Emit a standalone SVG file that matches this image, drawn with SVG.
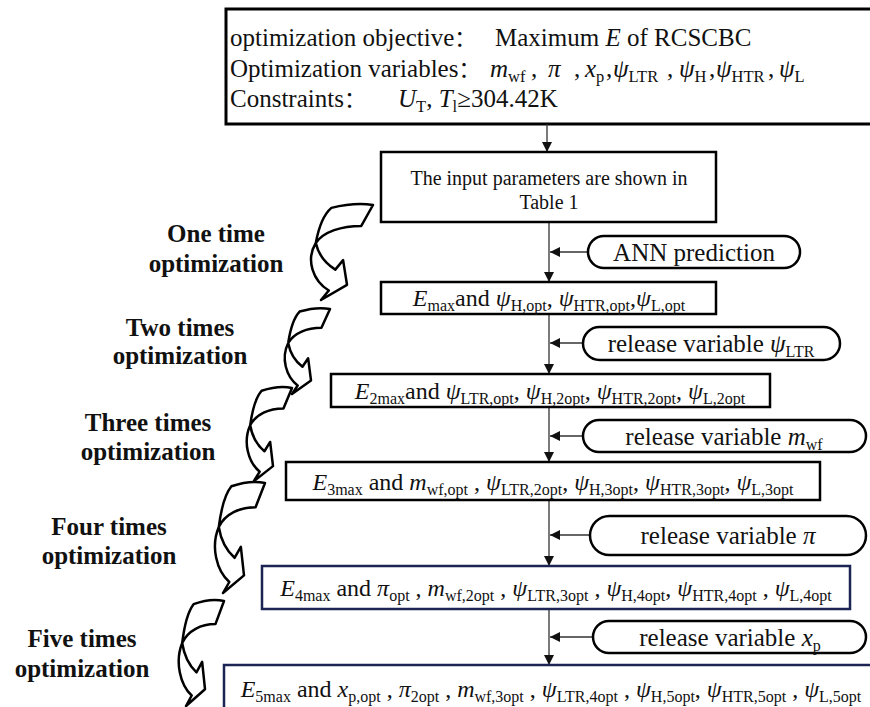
<svg xmlns="http://www.w3.org/2000/svg" xmlns:xlink="http://www.w3.org/1999/xlink" width="870" height="707" viewBox="0 0 870 707" font-family="'Liberation Serif', 'Times New Roman', Times, serif">
<style>
.tx{font-family:"Liberation Serif","Times New Roman",Times,serif;fill:#111}
.cj{font-family:"Noto Sans CJK SC","Noto Sans CJK JP",sans-serif;font-size:22px}
.i{font-style:italic}
.s{font-size:16px;baseline-shift:-5px;font-style:normal}
.s17{font-size:16.5px;baseline-shift:-5px;font-style:normal}
.m{text-anchor:middle}
.f24{font-size:24px}
.f25{font-size:25px}
.f20{font-size:20px}
.lbl{font-weight:bold;font-size:25px;text-anchor:middle}
.box{fill:#fff;stroke:#000;stroke-width:2.5}
.navy{stroke:#1b2452}
.pill{fill:#fff;stroke:#000;stroke-width:2.5}
.conn{stroke:#333;stroke-width:1.3;fill:none}
.ca{fill:#fff;stroke:#000;stroke-width:2.5;stroke-linejoin:round;vector-effect:non-scaling-stroke}
</style>
<defs>
<marker id="ah" viewBox="0 0 10 10" refX="10" refY="5" markerWidth="11" markerHeight="10" markerUnits="userSpaceOnUse" orient="auto"><path d="M0,0 L10,5 L0,10 Z" fill="#111"/></marker>
<path id="curv" class="ca" d="M -32,3 Q -14,-3 0,0 L -9,22 C -24,22 -38,28 -44,40 C -42,52 -36,62 -29,68 L -23,58 L -20,84 L -40,100 L -34,90 C -46,80 -52,58 -44,40 C -42,25 -38,10 -32,3 Z"/>
</defs>
<rect width="870" height="707" fill="#fff"/>

<g id="objective">
<rect class="box" x="226" y="9" width="660" height="115" style="stroke-width:3"/>
<text class="tx f25" x="230" y="46">optimization objective<tspan class="cj">：</tspan><tspan x="495">Maximum </tspan><tspan class="i">E</tspan> of RCSCBC</text>
<text class="tx f25" x="230" y="77">Optimization variables<tspan class="cj">：</tspan><tspan x="490" class="i">m</tspan><tspan class="s17">wf</tspan><tspan x="531">,</tspan><tspan x="548" class="i">π</tspan><tspan x="574">,</tspan><tspan x="585" class="i">x</tspan><tspan class="s17">p</tspan><tspan x="606">,</tspan><tspan x="613" class="i">ψ</tspan><tspan class="s17">LTR</tspan><tspan x="667">,</tspan><tspan x="679" class="i">ψ</tspan><tspan class="s17">H</tspan><tspan x="709">,</tspan><tspan x="716" class="i">ψ</tspan><tspan class="s17">HTR</tspan><tspan x="768">,</tspan><tspan x="779" class="i">ψ</tspan><tspan class="s17">L</tspan></text>
<text class="tx f25" x="230" y="107">Constraints<tspan class="cj">：</tspan><tspan x="398" class="i">U</tspan><tspan class="s17">T</tspan>, <tspan class="i">T</tspan><tspan class="s17">l</tspan>≥304.42K</text>
</g>

<g id="labels">
<text class="tx lbl" x="216" y="242">One time</text>
<text class="tx lbl" x="216" y="272">optimization</text>
<text class="tx lbl" x="180" y="336">Two times</text>
<text class="tx lbl" x="180" y="364">optimization</text>
<text class="tx lbl" x="148" y="431">Three times</text>
<text class="tx lbl" x="148" y="460">optimization</text>
<text class="tx lbl" x="109" y="535">Four times</text>
<text class="tx lbl" x="109" y="564">optimization</text>
<text class="tx lbl" x="82" y="647">Five times</text>
<text class="tx lbl" x="82" y="677">optimization</text>
</g>

<g id="curved-arrows">
<use xlink:href="#curv" transform="translate(373,205) scale(1.3,0.95)"/>
<use xlink:href="#curv" transform="translate(330,309) scale(0.95,0.85)"/>
<use xlink:href="#curv" transform="translate(292,388) scale(0.95,0.93)"/>
<use xlink:href="#curv" transform="translate(265,483) scale(1.05,1.1)"/>
<use xlink:href="#curv" transform="translate(224,601) scale(0.95,1.05)"/>
</g>

<g id="connectors">
<line class="conn" x1="547" y1="124" x2="547" y2="152" marker-end="url(#ah)"/>
<line class="conn" x1="549" y1="222" x2="549" y2="282" marker-end="url(#ah)"/>
<line class="conn" x1="549" y1="314" x2="549" y2="374" marker-end="url(#ah)"/>
<line class="conn" x1="549" y1="407" x2="549" y2="462" marker-end="url(#ah)"/>
<line class="conn" x1="549" y1="500" x2="549" y2="566" marker-end="url(#ah)"/>
<line class="conn" x1="549" y1="609" x2="549" y2="665" marker-end="url(#ah)"/>
<line class="conn" x1="588" y1="252" x2="550" y2="252" marker-end="url(#ah)"/>
<line class="conn" x1="583" y1="343" x2="550" y2="343" marker-end="url(#ah)"/>
<line class="conn" x1="583" y1="436" x2="550" y2="436" marker-end="url(#ah)"/>
<line class="conn" x1="590" y1="535" x2="550" y2="535" marker-end="url(#ah)"/>
<line class="conn" x1="593" y1="637" x2="550" y2="637" marker-end="url(#ah)"/>
</g>

<g id="input">
<rect class="box" x="381" y="152" width="335" height="70"/>
<text class="tx f20 m" x="549" y="185">The input parameters are shown in</text>
<text class="tx f20 m" x="549" y="209">Table 1</text>
</g>

<g id="ann">
<rect class="pill navy" x="588" y="236" width="212" height="32" rx="16"/>
<text class="tx f25 m" x="694" y="261">ANN prediction</text>
</g>

<g id="opt1">
<rect class="box" x="381" y="282" width="335" height="32"/>
<text class="tx f24 m" x="549" y="306"><tspan class="i">E</tspan><tspan class="s">max</tspan>and <tspan class="i">ψ</tspan><tspan class="s">H,opt</tspan>, <tspan class="i">ψ</tspan><tspan class="s">HTR,opt</tspan>,<tspan class="i">ψ</tspan><tspan class="s">L,opt</tspan></text>
</g>

<g id="rel-ltr">
<rect class="pill" x="583" y="327" width="257" height="33" rx="16.5"/>
<text class="tx f25 m" x="711" y="352">release variable <tspan class="i">ψ</tspan><tspan class="s">LTR</tspan></text>
</g>

<g id="opt2">
<rect class="box" x="331" y="374" width="439" height="33"/>
<text class="tx f24 m" x="550" y="399"><tspan class="i">E</tspan><tspan class="s">2max</tspan>and <tspan class="i">ψ</tspan><tspan class="s">LTR,opt</tspan>, <tspan class="i">ψ</tspan><tspan class="s">H,2opt</tspan>, <tspan class="i">ψ</tspan><tspan class="s">HTR,2opt</tspan>, <tspan class="i">ψ</tspan><tspan class="s">L,2opt</tspan></text>
</g>

<g id="rel-mwf">
<rect class="pill" x="583" y="420" width="283" height="32" rx="16"/>
<text class="tx f25 m" x="724" y="445">release variable <tspan class="i">m</tspan><tspan class="s">wf</tspan></text>
</g>

<g id="opt3">
<rect class="box" x="286" y="462" width="534" height="38"/>
<text class="tx f24 m" x="553" y="490"><tspan class="i">E</tspan><tspan class="s">3max</tspan> and <tspan class="i">m</tspan><tspan class="s">wf,opt</tspan> , <tspan class="i">ψ</tspan><tspan class="s">LTR,2opt</tspan>, <tspan class="i">ψ</tspan><tspan class="s">H,3opt</tspan>, <tspan class="i">ψ</tspan><tspan class="s">HTR,3opt</tspan>, <tspan class="i">ψ</tspan><tspan class="s">L,3opt</tspan></text>
</g>

<g id="rel-pi">
<rect class="pill" x="590" y="516" width="276" height="39" rx="19.5"/>
<text class="tx f25 m" x="728" y="544">release variable <tspan class="i">π</tspan></text>
</g>

<g id="opt4">
<rect class="box navy" x="262" y="566" width="588" height="43"/>
<text class="tx f24 m" x="556" y="596"><tspan class="i">E</tspan><tspan class="s">4max</tspan> and <tspan class="i">π</tspan><tspan class="s">opt</tspan> , <tspan class="i">m</tspan><tspan class="s">wf,2opt</tspan> , <tspan class="i">ψ</tspan><tspan class="s">LTR,3opt</tspan> , <tspan class="i">ψ</tspan><tspan class="s">H,4opt</tspan>, <tspan class="i">ψ</tspan><tspan class="s">HTR,4opt</tspan> , <tspan class="i">ψ</tspan><tspan class="s">L,4opt</tspan></text>
</g>

<g id="rel-xp">
<rect class="pill" x="593" y="621" width="273" height="32" rx="16"/>
<text class="tx f25 m" x="730" y="646">release variable <tspan class="i">x</tspan><tspan class="s">p</tspan></text>
</g>

<g id="opt5">
<rect class="box navy" x="224" y="665" width="660" height="50"/>
<text class="tx f24 m" x="551" y="697"><tspan class="i">E</tspan><tspan class="s">5max</tspan> and <tspan class="i">x</tspan><tspan class="s">p,opt</tspan> , <tspan class="i">π</tspan><tspan class="s">2opt</tspan> , <tspan class="i">m</tspan><tspan class="s">wf,3opt</tspan> , <tspan class="i">ψ</tspan><tspan class="s">LTR,4opt</tspan> , <tspan class="i">ψ</tspan><tspan class="s">H,5opt</tspan>, <tspan class="i">ψ</tspan><tspan class="s">HTR,5opt</tspan> , <tspan class="i">ψ</tspan><tspan class="s">L,5opt</tspan></text>
</g>
</svg>
